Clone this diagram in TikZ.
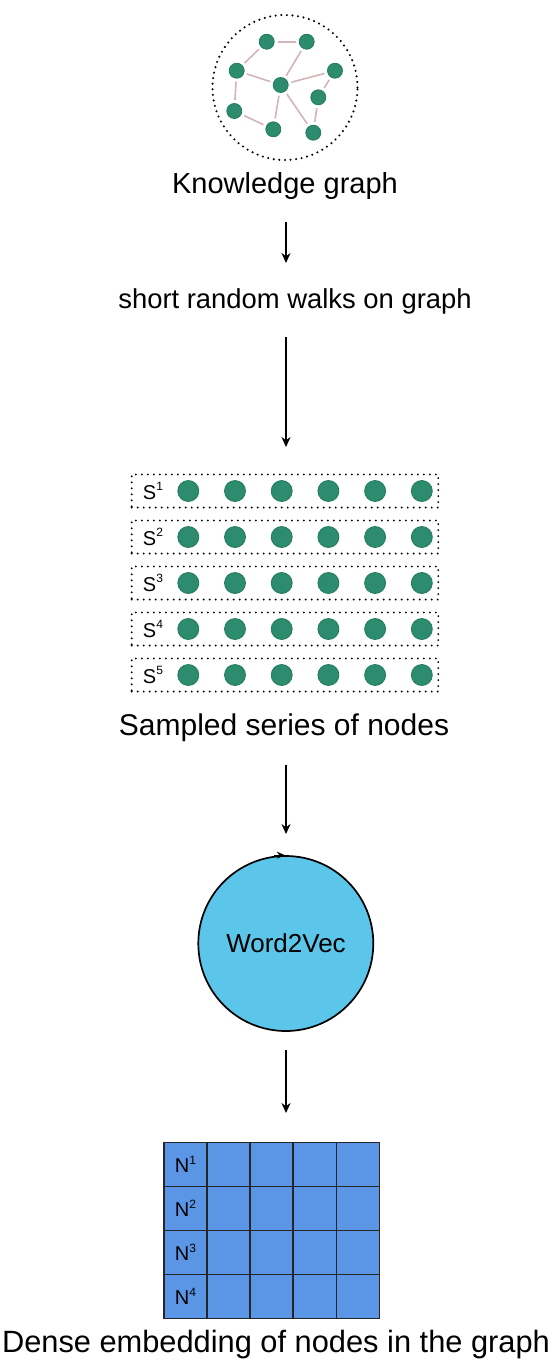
\documentclass[tikz,border=0pt]{standalone}
\usepackage{fontspec}
\setmainfont{Liberation Sans}
\usetikzlibrary{arrows.meta}
\definecolor{nodegreen}{HTML}{2E8C6E}
\definecolor{nodegreendark}{HTML}{237A5E}
\definecolor{edgecol}{HTML}{D2B6B6}
\definecolor{w2vblue}{HTML}{5BC6EA}
\definecolor{gridblue}{HTML}{5B95E6}
\begin{document}
\begin{tikzpicture}[x=1pt,y=-1pt,
  gnode/.style={circle,fill=nodegreen,draw=nodegreendark,line width=0.8pt,minimum size=15pt,inner sep=0pt},
  gedge/.style={draw=edgecol,line width=1.6pt,shorten <=3pt,shorten >=3pt},
  dotcircle/.style={circle,draw=black,line width=2.3pt,line cap=round,dash pattern=on 0pt off 5.6pt,minimum size=145pt,inner sep=0pt},
  lbl/.style={font=\fontsize{29}{34}\selectfont,inner sep=0pt,anchor=base},
  flow/.style={line width=1.5pt,-{Stealth[length=10pt,width=9pt]}},
  rowbox/.style={draw=black,line width=2.1pt,line cap=round,dash pattern=on 0pt off 6pt,minimum width=306.6pt,minimum height=33pt,inner sep=0pt},
  snode/.style={circle,fill=nodegreen,draw=nodegreendark,line width=0.8pt,minimum size=21pt,inner sep=0pt},
  slbl/.style={font=\fontsize{20}{22}\selectfont,inner sep=0pt},
  sup/.style={},
  cell/.style={draw=black!85,line width=1.4pt,fill=gridblue,minimum width=43.06pt,minimum height=43.9pt,inner sep=0pt},
  w2v/.style={circle,draw=black,line width=1.7pt,fill=w2vblue,minimum size=175pt,inner sep=0pt}
]
\useasboundingbox (0,0) rectangle (552,1361);

% knowledge graph
\node[dotcircle] (kg) at (285,87.5) {};
\node[gnode] (g1) at (266.7,41.7) {};
\node[gnode] (g2) at (306.7,41.7) {};
\node[gnode] (g3) at (236.7,70.7) {};
\node[gnode] (g4) at (335,70.7) {};
\node[gnode] (g5) at (280.7,85) {};
\node[gnode] (g6) at (318.3,97.3) {};
\node[gnode] (g7) at (234.3,111) {};
\node[gnode] (g8) at (273.3,129.3) {};
\node[gnode] (g9) at (313.3,132.7) {};
\draw[gedge] (g1) -- (g2);
\draw[gedge] (g1) -- (g3);
\draw[gedge] (g2) -- (g5);
\draw[gedge] (g3) -- (g5);
\draw[gedge] (g3) -- (g7);
\draw[gedge] (g5) -- (g4);
\draw[gedge] (g4) -- (g6);
\draw[gedge] (g6) -- (g9);
\draw[gedge] (g5) -- (g8);
\draw[gedge] (g5) -- (g9);
\draw[gedge] (g7) -- (g8);
\node[lbl] (kgl) at (285,193) {Knowledge graph};

% arrow 1
\coordinate (a1s) at (286,222);
\coordinate (a1e) at (286,263);
\draw[flow] (a1s) -- (a1e);
\node[lbl,font=\fontsize{27.4}{32}\selectfont] (walk) at (295,308) {short random walks on graph};

% arrow 2
\coordinate (a2s) at (286,337);
\coordinate (a2e) at (286,447);
\draw[flow] (a2s) -- (a2e);

% sampled series
\foreach \r [count=\i] in {491,537,583,629,675} {
  \node[rowbox] (row\i) at (285,\r) {};
  \node[slbl] (s\i) at (153,\r) {S\raisebox{0.42em}{\fontsize{12}{12}\selectfont\i}};
  \foreach \k in {0,...,5} {
    \node[snode] (n\i-\k) at ({188.3+46.7*\k},\r) {};
  }
}
\node[lbl,font=\fontsize{30}{35}\selectfont] (samp) at (284,735) {Sampled series of nodes};

% arrow 3
\coordinate (a3s) at (286,765);
\coordinate (a3e) at (286,834);
\draw[flow] (a3s) -- (a3e);

% word2vec
\node[w2v] (w2v) at (285.8,943.5) {};
\node[font=\fontsize{26}{30}\selectfont,inner sep=0pt,anchor=base] (w2vl) at (286,952) {Word2Vec};
\draw[line width=1.2pt,-{Stealth[length=8pt,width=7pt]}] ([xshift=-12pt]w2v.north) -- ([xshift=-1pt]w2v.north);

% arrow 4
\coordinate (a4s) at (286,1050);
\coordinate (a4e) at (286,1113);
\draw[flow] (a4s) -- (a4e);

% embedding grid
\foreach \i in {1,...,4} {
  \foreach \j in {1,...,5} {
    \node[cell] (c\i-\j) at ({164+43.06*(\j-0.5)},{1142.7+43.9*(\i-0.5)}) {};
  }
  \node[slbl] (nl\i) at (c\i-1) {N\raisebox{0.42em}{\fontsize{12}{12}\selectfont\i}};
}
\node[lbl,font=\fontsize{30.8}{36}\selectfont] (dense) at (276,1352) {Dense embedding of nodes in the graph};
\end{tikzpicture}
\end{document}
